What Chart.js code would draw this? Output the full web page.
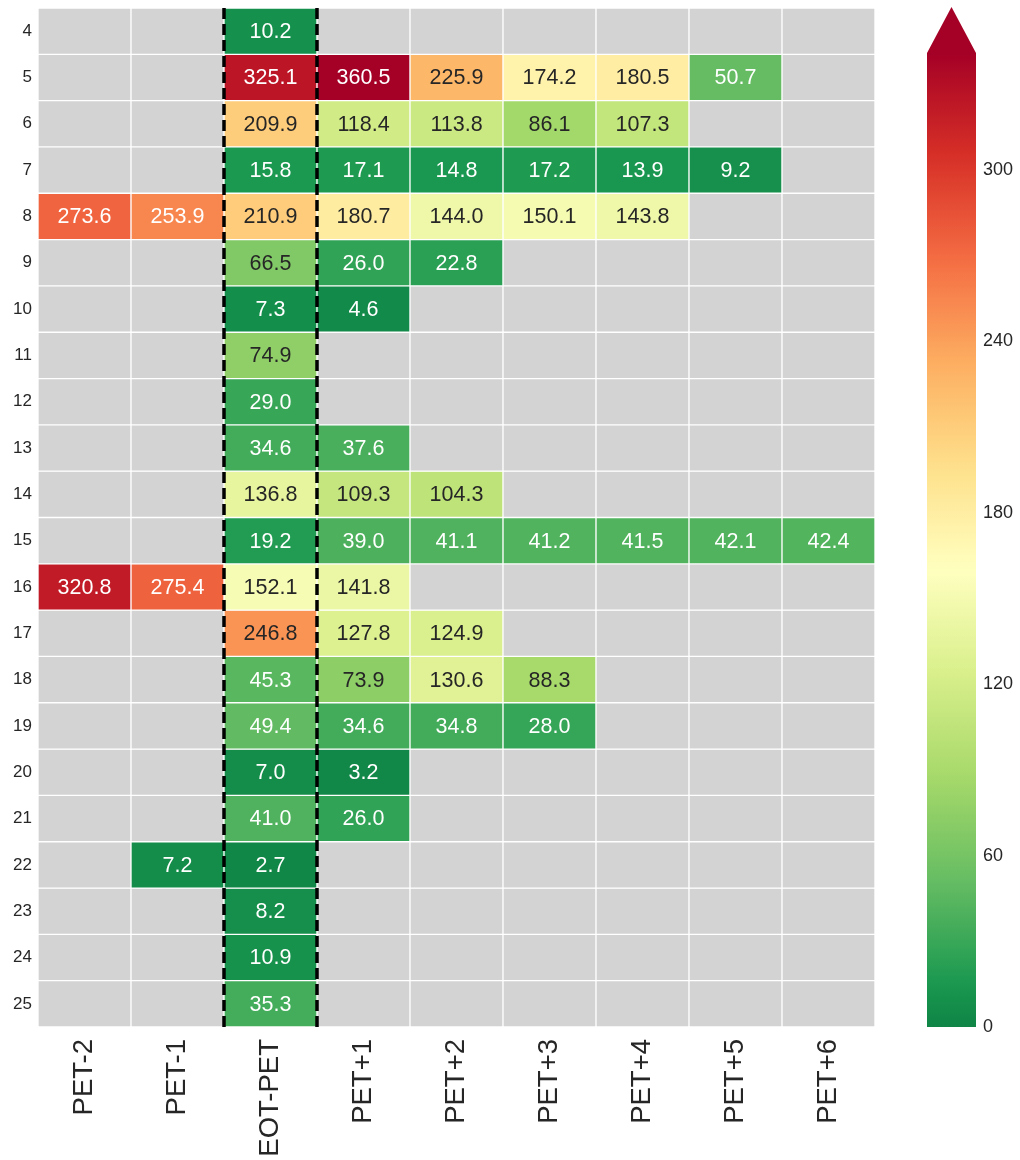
<!DOCTYPE html>
<html>
<head>
<meta charset="utf-8">
<script src="https://cdn.jsdelivr.net/npm/chart.js@4.4.1/dist/chart.umd.min.js"></script>
<style>
  html, body { margin: 0; padding: 0; background: #fff; }
  #wrap { position: relative; width: 1020px; height: 1160px; }
  #wrap canvas { position: absolute; left: 0; top: 0; }
</style>
</head>
<body>
<div id="wrap">
  <canvas id="heat" width="1020" height="1160"></canvas>
  <canvas id="cbar" width="1020" height="1160"></canvas>
</div>
<script>
// row labels (y) and column labels (x)
const rows = [4, 5, 6, 7, 8, 9, 10, 11, 12, 13, 14, 15, 16, 17, 18, 19, 20, 21, 22, 23, 24, 25]
const columns = ['PET-2', 'PET-1', 'EOT-PET', 'PET+1', 'PET+2', 'PET+3', 'PET+4', 'PET+5', 'PET+6']

// one array per column, one entry per row (null = no data)
const petMinus2 = [null, null, null, null, 273.6, null, null, null, null, null, null, null, 320.8, null, null, null, null, null, null, null, null, null]
const petMinus1 = [null, null, null, null, 253.9, null, null, null, null, null, null, null, 275.4, null, null, null, null, null, 7.2, null, null, null]
const eotPet = [10.2, 325.1, 209.9, 15.8, 210.9, 66.5, 7.3, 74.9, 29.0, 34.6, 136.8, 19.2, 152.1, 246.8, 45.3, 49.4, 7.0, 41.0, 2.7, 8.2, 10.9, 35.3]
const petPlus1 = [null, 360.5, 118.4, 17.1, 180.7, 26.0, 4.6, null, null, 37.6, 109.3, 39.0, 141.8, 127.8, 73.9, 34.6, 3.2, 26.0, null, null, null, null]
const petPlus2 = [null, 225.9, 113.8, 14.8, 144.0, 22.8, null, null, null, null, 104.3, 41.1, null, 124.9, 130.6, 34.8, null, null, null, null, null, null]
const petPlus3 = [null, 174.2, 86.1, 17.2, 150.1, null, null, null, null, null, null, 41.2, null, null, 88.3, 28.0, null, null, null, null, null, null]
const petPlus4 = [null, 180.5, 107.3, 13.9, 143.8, null, null, null, null, null, null, 41.5, null, null, null, null, null, null, null, null, null, null]
const petPlus5 = [null, 50.7, null, 9.2, null, null, null, null, null, null, null, 42.1, null, null, null, null, null, null, null, null, null, null]
const petPlus6 = [null, null, null, null, null, null, null, null, null, null, null, 42.4, null, null, null, null, null, null, null, null, null, null]
const columnValues = [petMinus2, petMinus1, eotPet, petPlus1, petPlus2, petPlus3, petPlus4, petPlus5, petPlus6]

// colour scale
const vmin = 0
const vmax = 341
const vcenter = 160
const cbTicks = [0, 60, 120, 180, 240, 300]

const FONT = "'Liberation Sans', Arial, sans-serif"
const TXT = '#262626'
const NAN_GREY = '#d3d3d3'

// RdYlGn reversed (green -> red)
const stops = ['#006837', '#1a9850', '#66bd63', '#a6d96a', '#d9ef8b', '#ffffbf',
  '#fee08b', '#fdae61', '#f46d43', '#d73027', '#a50026'].map(h => [
  parseInt(h.slice(1, 3), 16), parseInt(h.slice(3, 5), 16), parseInt(h.slice(5, 7), 16)])

function cmapRgb(v) {
  // seaborn "center" behaviour: symmetric range round the centre
  const vr = Math.max(vmax - vcenter, vcenter - vmin)
  let t = (v - (vcenter - vr)) / (2 * vr)
  t = Math.max(0, Math.min(1, t))
  const p = t * (stops.length - 1)
  const i = Math.min(stops.length - 2, Math.floor(p))
  const f = p - i
  return stops[i].map((c, k) => Math.round(c + (stops[i + 1][k] - c) * f))
}

function cellColor(v) {
  const [r, g, b] = cmapRgb(v)
  return `rgb(${r},${g},${b})`
}

function textColor(v) {
  const lin = cmapRgb(v).map(c => {
    c /= 255
    return c <= 0.03928 ? c / 12.92 : Math.pow((c + 0.055) / 1.055, 2.4)
  })
  const lum = 0.2126 * lin[0] + 0.7152 * lin[1] + 0.0722 * lin[2]
  return lum > 0.408 ? TXT : '#ffffff'
}

// one floating-bar dataset per row, spanning row-0.5 .. row+0.5 in every column
const datasets = rows.map((r, ri) => ({
  data: columns.map(() => [r - 0.5, r + 0.5]),
  cellValues: columnValues.map(col => col[ri]),
  backgroundColor: columnValues.map(col => col[ri] == null ? NAN_GREY : cellColor(col[ri])),
  borderColor: '#ffffff',
  borderWidth: 1,
  borderSkipped: false,
  barPercentage: 1,
  categoryPercentage: 1,
  grouped: false,
}))

const annotate = {
  id: 'annotate',
  afterDatasetsDraw(chart) {
    const c = chart.ctx
    c.save()
    c.font = `21.5px ${FONT}`
    c.textAlign = 'center'
    c.textBaseline = 'middle'
    chart.data.datasets.forEach((ds, di) => {
      chart.getDatasetMeta(di).data.forEach((bar, j) => {
        const v = ds.cellValues[j]
        if (v == null) return
        c.fillStyle = textColor(v)
        c.fillText(v.toFixed(1), bar.x, (bar.y + bar.base) / 2 + 1)
      })
    })
    c.restore()
  },
}

const eotLines = {
  id: 'eotLines',
  afterDatasetsDraw(chart) {
    const x = chart.scales.x
    const { top, bottom } = chart.chartArea
    const idx = columns.indexOf('EOT-PET')
    const edges = [
      (x.getPixelForValue(idx - 1) + x.getPixelForValue(idx)) / 2,
      (x.getPixelForValue(idx) + x.getPixelForValue(idx + 1)) / 2,
    ]
    const c = chart.ctx
    c.save()
    c.strokeStyle = '#000'
    c.lineWidth = 3.5
    c.setLineDash([11, 5])
    edges.forEach(px => {
      c.beginPath()
      c.moveTo(px, top)
      c.lineTo(px, bottom)
      c.stroke()
    })
    c.restore()
  },
}

new Chart(document.getElementById('heat'), {
  type: 'bar',
  data: { labels: columns, datasets },
  options: {
    responsive: false,
    animation: false,
    layout: { padding: { left: 0, top: 8, right: 145, bottom: 0 } },
    plugins: { legend: { display: false }, tooltip: { enabled: false } },
    scales: {
      x: {
        grid: { display: false, drawTicks: false },
        border: { display: false },
        ticks: { color: TXT, font: { family: FONT, size: 27.5 }, minRotation: 90, maxRotation: 90, padding: 12, autoSkip: false },
        afterFit: s => { s.height = 133; s.paddingLeft = 0; s.paddingRight = 0 },
      },
      y: {
        reverse: true,
        min: rows[0] - 0.5,
        max: rows[rows.length - 1] + 0.5,
        grid: { display: false, drawTicks: false },
        border: { display: false },
        ticks: { color: TXT, font: { family: FONT, size: 17 }, padding: 6 },
        afterBuildTicks: s => { s.ticks = rows.map(v => ({ value: v })) },
        afterFit: s => { s.width = 38; s.paddingTop = 0; s.paddingBottom = 0 },
      },
    },
  },
  plugins: [annotate, eotLines],
})

// colour bar
const extendArrow = {
  id: 'extendArrow',
  afterDatasetsDraw(chart) {
    const { left, right, top } = chart.chartArea
    const c = chart.ctx
    c.save()
    c.fillStyle = cellColor(vmax)
    c.beginPath()
    c.moveTo(left, top)
    c.lineTo(right, top)
    c.lineTo((left + right) / 2, 7)
    c.closePath()
    c.fill()
    c.restore()
  },
}

new Chart(document.getElementById('cbar'), {
  type: 'bar',
  data: {
    labels: [''],
    datasets: [{
      data: [[vmin, vmax]],
      barPercentage: 1,
      categoryPercentage: 1,
      borderWidth: 0,
      backgroundColor: ctx => {
        const chart = ctx.chart
        if (!chart.chartArea) return null
        const y = chart.scales.y
        const g = chart.ctx.createLinearGradient(0, y.getPixelForValue(vmin), 0, y.getPixelForValue(vmax))
        for (let i = 0; i <= 60; i++) {
          const v = vmin + (vmax - vmin) * i / 60
          g.addColorStop(i / 60, cellColor(v))
        }
        return g
      },
    }],
  },
  options: {
    responsive: false,
    animation: false,
    layout: { padding: { left: 927, top: 53, right: 0, bottom: 133 } },
    plugins: { legend: { display: false }, tooltip: { enabled: false } },
    scales: {
      x: { display: false },
      y: {
        position: 'right',
        min: vmin,
        max: vmax,
        grid: { display: false, drawTicks: false },
        border: { display: false },
        ticks: { color: TXT, font: { family: FONT, size: 18 }, padding: 7 },
        afterBuildTicks: s => { s.ticks = cbTicks.map(v => ({ value: v })) },
        afterFit: s => { s.width = 44; s.paddingTop = 0; s.paddingBottom = 0 },
      },
    },
  },
  plugins: [extendArrow],
})
</script>
</body>
</html>
